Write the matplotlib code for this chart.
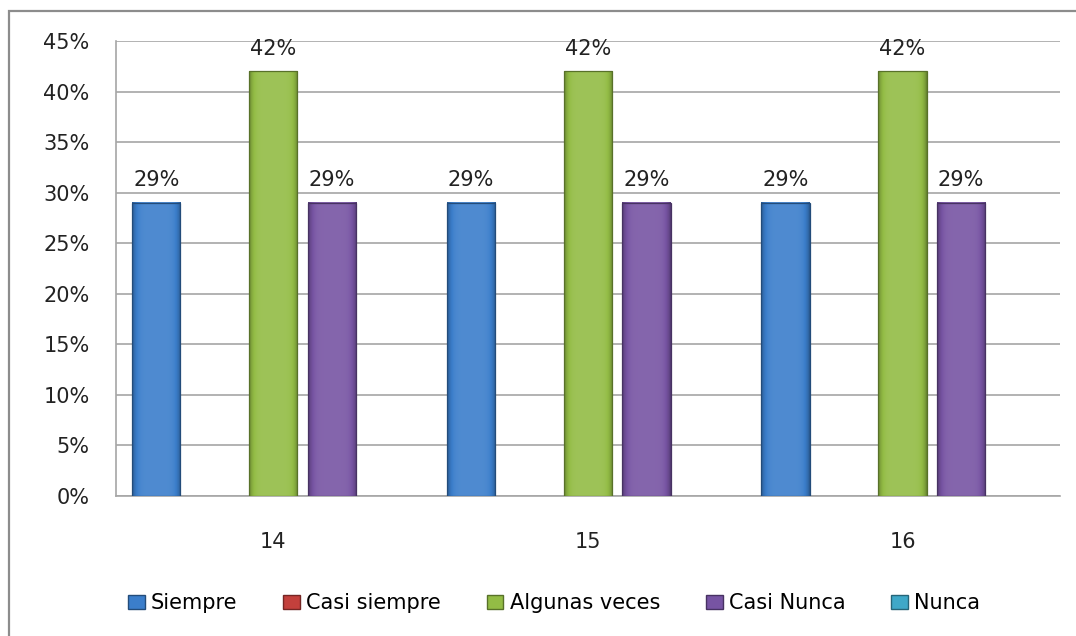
import numpy as np
import matplotlib.pyplot as plt
from matplotlib.patches import Rectangle, Patch
from matplotlib.colors import to_rgb
from matplotlib.ticker import FuncFormatter

# data
groups = ['14', '15', '16']
series = ['Siempre', 'Casi siempre', 'Algunas veces', 'Casi Nunca', 'Nunca']
values = {
    'Siempre': [0.29, 0.29, 0.29],
    'Casi siempre': [0.0, 0.0, 0.0],
    'Algunas veces': [0.42, 0.42, 0.42],
    'Casi Nunca': [0.29, 0.29, 0.29],
    'Nunca': [0.0, 0.0, 0.0],
}
colors = ['#3B7ECB', '#C3403C', '#93BC45', '#7754A3', '#3FA8C8']

fig = plt.figure(figsize=(10.76, 6.36), dpi=100)
ax = fig.add_axes([0.1078, 0.2201, 0.8772, 0.7154])

# outer chart border (only top and left edges fall inside the image)
fig.patches.append(Rectangle((0.0085, -0.05), 1.2, 1.033, transform=fig.transFigure,
                             fill=False, edgecolor='#8C8C8C', linewidth=1.6))

x = np.arange(len(groups))
step = 0.186
width = 0.153


def shade(c, f):
    r = np.array(to_rgb(c))
    if f >= 0:
        return r + (1 - r) * f
    return r * (1 + f)


handles = []
for i, (name, col) in enumerate(zip(series, colors)):
    pos = x + (i - 2) * step
    vals = values[name]
    handles.append(Patch(facecolor=col, edgecolor=shade(col, -0.4), label=name))
    shown = [v if v > 0 else np.nan for v in vals]
    bars = ax.bar(pos, shown, width, color='none', edgecolor=shade(col, -0.4),
                  linewidth=0.9, zorder=4)
    for b, v in zip(bars, vals):
        if v <= 0:
            continue
        # horizontal gradient to mimic the bevelled Excel bars
        t = np.linspace(-1, 1, 80)
        prof = 0.10 - 0.40 * t ** 6
        img = np.array([[shade(col, p) for p in prof]])
        x0, w = b.get_x(), b.get_width()
        ax.imshow(img, extent=[x0, x0 + w, 0, v], aspect='auto', zorder=3.5,
                  interpolation='bilinear')
        ax.annotate(f'{v:.0%}', (x0 + w / 2, v), xytext=(0, 9),
                    textcoords='offset points', ha='center', va='bottom',
                    fontsize=15, color='#222222', zorder=5)

ax.set_xlim(-0.5, 2.5)
ax.set_ylim(0, 0.45)
ax.set_yticks(np.arange(0, 0.46, 0.05))
ax.yaxis.set_major_formatter(FuncFormatter(lambda v, _: f'{v:.0%}'))
ax.set_xticks(x)
ax.set_xticklabels(groups)
ax.tick_params(axis='x', length=0, pad=26, labelsize=15, labelcolor='#222222')
ax.tick_params(axis='y', length=0, pad=19, labelsize=15, labelcolor='#222222')
ax.grid(axis='y', color='#A6A6A6', linewidth=1.2, zorder=0)
for s in ['top', 'right']:
    ax.spines[s].set_visible(False)
for s in ['left', 'bottom']:
    ax.spines[s].set_color('#A6A6A6')
    ax.spines[s].set_linewidth(1.2)

fig.legend(handles=handles, loc='center', bbox_to_anchor=(0.515, 0.052), ncol=5,
           frameon=False, handlelength=0.8, handleheight=0.65, handletextpad=0.3,
           columnspacing=2.2, prop={'size': 15})

fig.savefig('out.png', dpi=100)
